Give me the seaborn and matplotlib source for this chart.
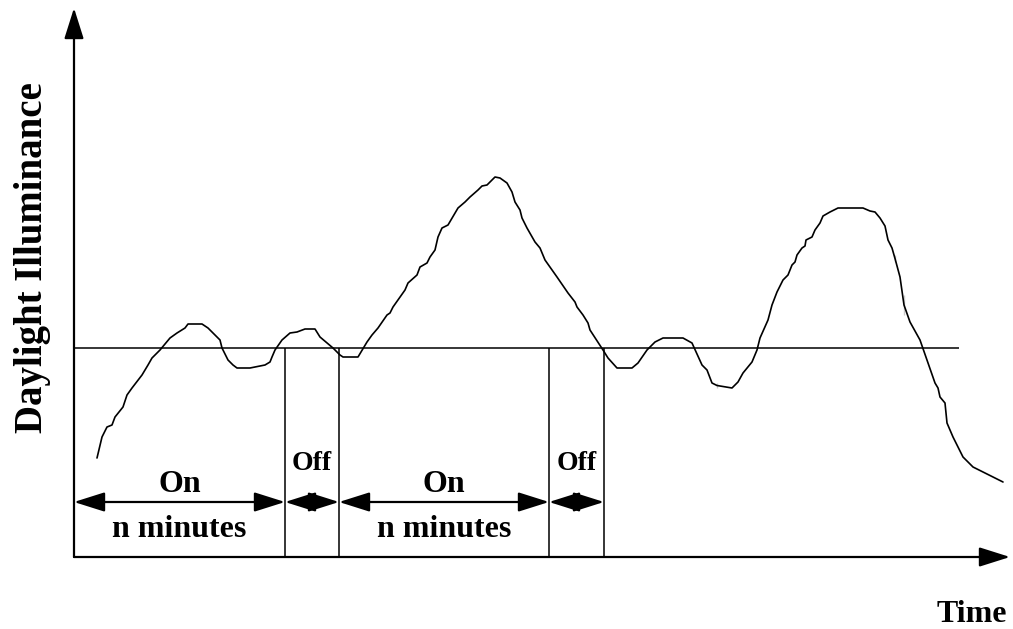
import matplotlib
matplotlib.use('Agg')
import matplotlib.pyplot as plt
import pandas as pd
import seaborn as sns

# daylight curve (time steps, illuminance units)
time_steps = [23, 28, 33, 38, 41, 49, 53, 58, 68, 74, 78, 86, 96, 103, 111, 114, 128, 134, 141, 146,
              148, 154, 159, 163, 176, 191, 196, 198, 201, 208, 216, 223, 231, 241, 246, 253, 259, 266,
              269, 284, 293, 298, 304, 313, 316, 319, 326, 331, 334, 343, 346, 353, 356, 361, 364, 368,
              374, 384, 391, 396, 404, 408, 413, 421, 426, 433, 438, 441, 446, 448, 453, 461, 466, 471,
              483, 494, 501, 503, 509, 514, 516, 529, 534, 543, 558, 564, 573, 581, 589, 609, 618, 628,
              633, 638, 643, 643, 658, 664, 669, 678, 683, 686, 694, 698, 703, 709, 714, 718, 721, 723,
              728, 731, 732, 738, 741, 746, 749, 756, 764, 789, 796, 801, 806, 811, 814, 818, 821, 821,
              826, 830, 830, 836, 846, 853, 861, 864, 866, 871, 873, 879, 889, 899, 929]
illuminance = [99, 120, 130, 132, 140, 150, 162, 169, 182, 192, 199, 207, 219, 224, 229, 233, 233, 229,
               222, 217, 209, 197, 192, 189, 189, 192, 195, 200, 207, 217, 224, 225, 228, 228, 220, 214,
               209, 202, 200, 200, 215, 222, 229, 242, 244, 250, 260, 267, 274, 282, 290, 294, 300, 307,
               320, 329, 332, 349, 355, 360, 367, 371, 372, 380, 379, 374, 365, 355, 347, 339, 329, 315,
               309, 297, 280, 264, 255, 250, 242, 234, 227, 207, 199, 189, 189, 194, 207, 215, 219, 219,
               214, 192, 187, 174, 174, 169, 169, 175, 184, 195, 207, 219, 237, 252, 265, 277, 282, 292,
               295, 302, 309, 311, 317, 320, 327, 334, 341, 345, 349, 349, 346, 345, 339, 331, 317, 309,
               302, 295, 280, 262, 242, 235, 217, 197, 174, 169, 160, 154, 134, 120, 100, 90, 75]

threshold = 209
threshold_end = 885
switch_times = [211, 265, 475, 530]
period_labels = ['On', 'Off', 'On', 'Off']
period_sublabels = ['n minutes', '', 'n minutes', '']


def setup_axes():
    sns.set_style('white')
    plt.rcParams['font.family'] = ['Liberation Serif', 'DejaVu Serif']
    plt.rcParams['font.weight'] = 'bold'
    plt.rcParams['text.color'] = 'black'
    fig = plt.figure(figsize=(10.13, 6.29), dpi=100)
    ax = fig.add_axes([74 / 1013, 72 / 629, 939 / 1013, 557 / 629])
    ax.set_xlim(0, 939)
    ax.set_ylim(0, 557)
    ax.set_axis_off()
    return fig, ax


def draw_axes_arrows(ax):
    style = dict(arrowstyle='-|>,head_length=1.9,head_width=0.6', color='black', lw=1.6,
                 mutation_scale=10, shrinkA=0, shrinkB=0)
    ax.annotate('', xy=(0, 549), xytext=(0, 0), arrowprops=style, annotation_clip=False)
    ax.annotate('', xy=(936, 0), xytext=(0, 0), arrowprops=style, annotation_clip=False)


def draw_periods(ax):
    edges = [0] + switch_times
    arrow_y = 55
    for i, label in enumerate(period_labels):
        start, end = edges[i], edges[i + 1]
        mid = (start + end) / 2
        ax.annotate('', xy=(end, arrow_y), xytext=(start, arrow_y),
                    arrowprops=dict(arrowstyle='<|-|>,head_length=1.9,head_width=0.6',
                                    color='black', lw=1.6, mutation_scale=10,
                                    shrinkA=0, shrinkB=0))
        if label == 'On':
            ax.text(mid, 65, label, ha='center', va='baseline', fontsize=23, fontweight='bold')
            ax.text(mid, 20, period_sublabels[i], ha='center', va='baseline', fontsize=23,
                    fontweight='bold')
        else:
            ax.text(mid, 87, label, ha='center', va='baseline', fontsize=20, fontweight='bold')


def main():
    fig, ax = setup_axes()
    df = pd.DataFrame({'time': time_steps, 'illuminance': illuminance})
    sns.lineplot(data=df, x='time', y='illuminance', sort=False, color='black', lw=1.2, ax=ax)
    ax.hlines(threshold, 0, threshold_end, color='black', lw=1.1)
    ax.vlines(switch_times, 0, threshold, color='black', lw=1.1)
    draw_axes_arrows(ax)
    draw_periods(ax)
    ax.text(898, -65, 'Time', ha='center', va='baseline', fontsize=23, fontweight='bold',
            clip_on=False)
    ax.text(-41, 299, 'Daylight Illuminance', ha='center', va='center', rotation=90,
            fontsize=28, fontweight='bold', clip_on=False)
    fig.savefig('out.png', dpi=100)


if __name__ == '__main__':
    main()
